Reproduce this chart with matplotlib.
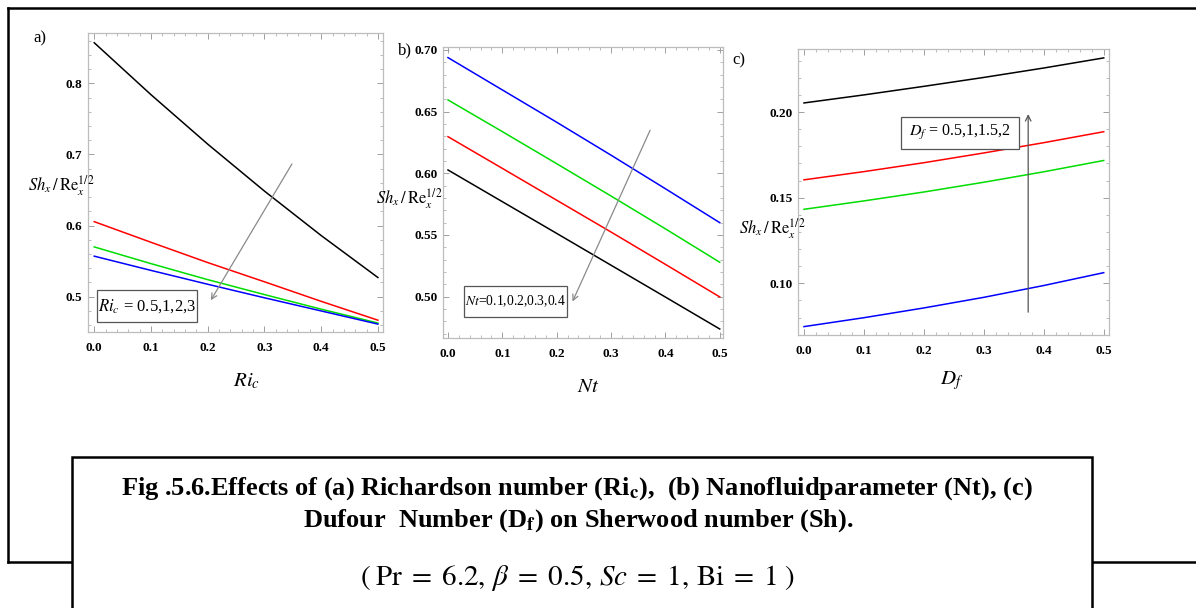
import matplotlib
matplotlib.use("Agg")
import matplotlib.pyplot as plt
from matplotlib.patches import Rectangle
from matplotlib.lines import Line2D
from matplotlib.ticker import MultipleLocator, FormatStrFormatter

plt.rcParams['font.family'] = ['Liberation Serif', 'DejaVu Serif']
plt.rcParams['mathtext.fontset'] = 'stix'

W, H = 1196, 608

# data
x_vals = [0.0, 0.1, 0.2, 0.3, 0.4, 0.5]
colors = ['black', 'red', '#00dd00', 'blue']

# (a) Ri_c = 0.5, 1, 2, 3
ri_black = [0.857, 0.784, 0.7145, 0.6485, 0.586, 0.527]
ri_red = [0.6055, 0.5765, 0.548, 0.521, 0.4935, 0.467]
ri_green = [0.570, 0.5465, 0.524, 0.503, 0.4825, 0.463]
ri_blue = [0.557, 0.537, 0.5175, 0.4985, 0.480, 0.4615]

# (b) Nt = 0.1, 0.2, 0.3, 0.4
nt_black = [0.6027, 0.5770, 0.5513, 0.5255, 0.4997, 0.4738]
nt_red = [0.6297, 0.6040, 0.5782, 0.5524, 0.5262, 0.4998]
nt_green = [0.6595, 0.6338, 0.6078, 0.5816, 0.5550, 0.5279]
nt_blue = [0.6938, 0.6676, 0.6414, 0.6147, 0.5875, 0.5600]

# (c) Df = 0.5, 1, 1.5, 2
df_black = [0.2053, 0.2100, 0.2150, 0.2202, 0.2257, 0.2316]
df_red = [0.1604, 0.1652, 0.1704, 0.1761, 0.1821, 0.1885]
df_green = [0.1432, 0.1481, 0.1533, 0.1590, 0.1651, 0.1717]
df_blue = [0.0747, 0.0799, 0.0856, 0.0918, 0.0987, 0.1062]

ylabel = r'$Sh_x\,/\,\mathrm{Re}_x^{1/2}$'


def px_box(left, top, right, bottom):
    return [left / W, 1 - bottom / H, (right - left) / W, (bottom - top) / H]


def fx(px):
    return px / W


def fy(py):
    return 1 - py / H


fig = plt.figure(figsize=(W / 100, H / 100), dpi=100)

# outer frame and caption box
frame_kw = dict(color='black', lw=1.8, transform=fig.transFigure)
fig.add_artist(Line2D([fx(8), fx(8)], [fy(8), fy(562)], **frame_kw))
fig.add_artist(Line2D([fx(8), fx(1196)], [fy(8), fy(8)], **frame_kw))
fig.add_artist(Line2D([fx(8), fx(1196)], [fy(562), fy(562)], **frame_kw))
fig.add_artist(Rectangle((fx(72), fy(612)), fx(1092) - fx(72), fy(457) - fy(612),
                         transform=fig.transFigure, facecolor='white',
                         edgecolor='black', lw=1.8, zorder=5))


def setup(ax, xlim, ylim, ymaj, ymin, yfmt):
    ax.set_xlim(*xlim)
    ax.set_ylim(*ylim)
    ax.xaxis.set_major_locator(MultipleLocator(0.1))
    ax.xaxis.set_minor_locator(MultipleLocator(0.02))
    ax.yaxis.set_major_locator(MultipleLocator(ymaj))
    ax.yaxis.set_minor_locator(MultipleLocator(ymin))
    ax.xaxis.set_major_formatter(FormatStrFormatter('%.1f'))
    ax.yaxis.set_major_formatter(FormatStrFormatter(yfmt))
    for s in ax.spines.values():
        s.set_color('#bdbdbd')
        s.set_linewidth(0.9)
    ax.tick_params(which='both', direction='in', top=True, right=True,
                   color='#a0a0a0')
    ax.tick_params(which='major', length=4, width=0.7, labelsize=9.5, pad=4)
    ax.tick_params(which='minor', length=2, width=0.5)
    ax.tick_params(axis='x', which='major', pad=7)
    for lab in ax.get_xticklabels() + ax.get_yticklabels():
        lab.set_fontweight('bold')


def box(ax, x0, y0, x1, y1, label, size):
    ax.add_patch(Rectangle((x0, y0), x1 - x0, y1 - y0, facecolor='white',
                           edgecolor='#555555', lw=0.9, zorder=4))
    ax.text((x0 + x1) / 2, (y0 + y1) / 2, label, ha='center', va='center',
            fontsize=size, zorder=5)


# (a)
ax1 = fig.add_axes(px_box(88, 33, 383, 332))
for ys, c in zip([ri_black, ri_red, ri_green, ri_blue], colors):
    ax1.plot(x_vals, ys, color=c, lw=1.1)
setup(ax1, (-0.011, 0.509), (0.4504, 0.8707), 0.1, 0.02, '%.1f')
ax1.annotate('', xy=(0.203, 0.4916), xytext=(0.351, 0.690),
             arrowprops=dict(arrowstyle='->', color='#8a8a8a', lw=0.9))
box(ax1, 0.004, 0.464, 0.182, 0.509, r'$Ri_c$ = 0.5,1,2,3', 12)
fig.text(fx(61), fy(186), ylabel, ha='center', va='center', fontsize=12)
fig.text(fx(247), fy(381), r'$Ri_c$', ha='center', va='center', fontsize=15)
fig.text(fx(40), fy(38), 'a)', ha='center', va='center', fontsize=12)

# (b)
ax2 = fig.add_axes(px_box(443, 47, 723, 338))
for ys, c in zip([nt_black, nt_red, nt_green, nt_blue], colors):
    ax2.plot(x_vals, ys, color=c, lw=1.1)
setup(ax2, (-0.0092, 0.506), (0.4665, 0.7024), 0.05, 0.01, '%.2f')
ax2.annotate('', xy=(0.227, 0.494), xytext=(0.374, 0.637),
             arrowprops=dict(arrowstyle='->', color='#8a8a8a', lw=0.9))
box(ax2, 0.029, 0.4833, 0.219, 0.5086, r'$Nt$=0.1,0.2,0.3,0.4', 9.8)
fig.text(fx(409), fy(199), ylabel, ha='center', va='center', fontsize=12)
fig.text(fx(588), fy(388), r'$Nt$', ha='center', va='center', fontsize=15)
fig.text(fx(405), fy(50), 'b)', ha='center', va='center', fontsize=12)

# (c)
ax3 = fig.add_axes(px_box(798, 49, 1109, 335))
for ys, c in zip([df_black, df_red, df_green, df_blue], colors):
    ax3.plot(x_vals, ys, color=c, lw=1.1)
setup(ax3, (-0.010, 0.5088), (0.0698, 0.2368), 0.05, 0.01, '%.2f')
ax3.annotate('', xy=(0.374, 0.2004), xytext=(0.374, 0.0815),
             arrowprops=dict(arrowstyle='->', color='#555555', lw=0.9))
box(ax3, 0.162, 0.1786, 0.359, 0.1971, r'$D_f$ = 0.5,1,1.5,2', 11.5)
fig.text(fx(772), fy(229), ylabel, ha='center', va='center', fontsize=12)
fig.text(fx(952), fy(381), r'$D_f$', ha='center', va='center', fontsize=15)
fig.text(fx(739), fy(60), 'c)', ha='center', va='center', fontsize=12)

# caption
cap_kw = dict(ha='center', va='center', fontsize=19, fontweight='bold', zorder=6)
fig.text(fx(577), fy(489), r'Fig .5.6.Effects of (a) Richardson number (Ri$_{\mathbf{c}}$),  '
         r'(b) Nanofluidparameter (Nt), (c)', **cap_kw)
fig.text(fx(578), fy(521), r'Dufour  Number (D$_{\mathbf{f}}$) on Sherwood number (Sh).', **cap_kw)
fig.text(fx(577), fy(578), r'$(\;\mathrm{Pr}\;=\;6.2,\,\beta\;=\;0.5,\,Sc\;=\;1,\,\mathrm{Bi}\;=\;1\;)$',
         ha='center', va='center', fontsize=21, zorder=6)

fig.savefig('out.png', dpi=100)
